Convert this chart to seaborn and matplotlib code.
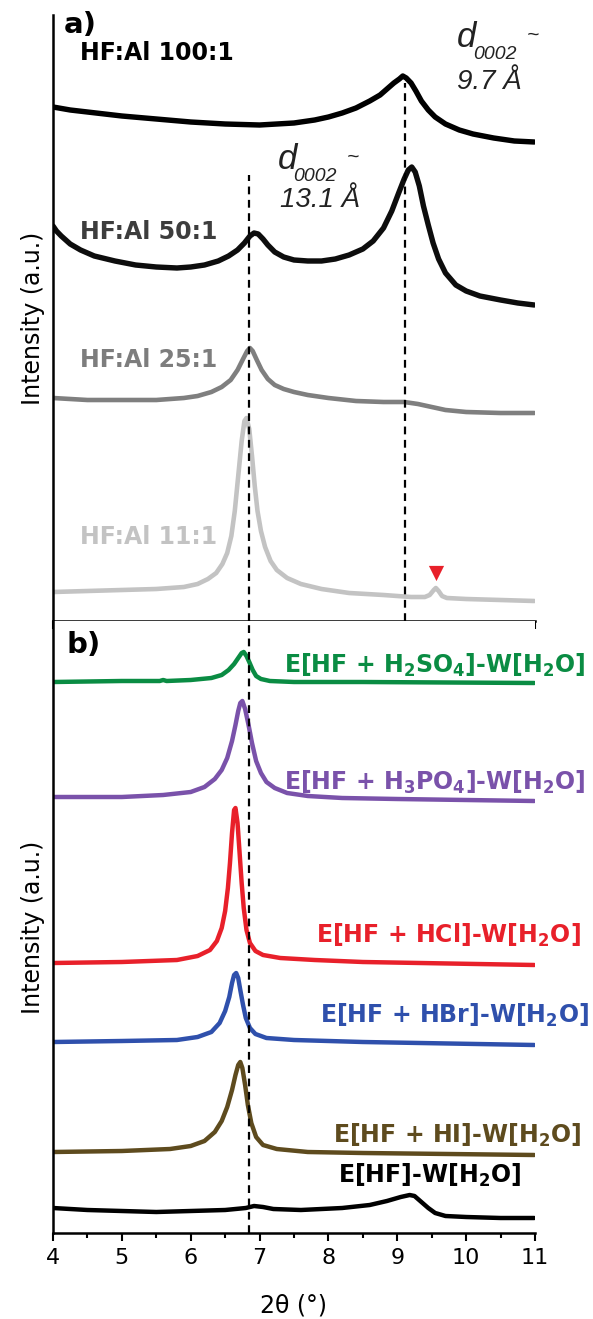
import numpy as np
import pandas as pd
import matplotlib
matplotlib.use("Agg")
import matplotlib.pyplot as plt
import seaborn as sns

# ---------------- data (2theta in degrees, stacked intensity in a.u.) ----------------
# panel a
a100_x = [4.0, 4.25, 4.5, 4.75, 5.0, 5.5, 6.0, 6.5, 7.0, 7.5, 7.8, 8.0, 8.2, 8.4, 8.6, 8.75, 8.85, 8.95,
          9.03, 9.08, 9.13, 9.2, 9.27, 9.35, 9.45, 9.55, 9.7, 9.9, 10.1, 10.4, 10.7, 10.99]
a100_y = [514, 511, 509, 507, 505, 502, 499, 497, 496, 498, 501, 504, 508, 513, 520, 526, 532, 538,
          542, 545, 543, 538, 530, 520, 511, 504, 497, 491, 487, 483, 480, 479]

a50_x = [4.0, 4.05, 4.12, 4.25, 4.4, 4.6, 4.9, 5.2, 5.5, 5.8, 6.0, 6.2, 6.4, 6.55, 6.68, 6.78, 6.86, 6.92,
         6.98, 7.05, 7.12, 7.22, 7.35, 7.5, 7.7, 7.9, 8.1, 8.3, 8.5, 8.65, 8.8, 8.92, 9.02, 9.1, 9.16, 9.21,
         9.26, 9.32, 9.38, 9.45, 9.52, 9.6, 9.7, 9.85, 10.0, 10.2, 10.5, 10.75, 10.99]
a50_y = [395, 390, 385, 377, 371, 365, 360, 356, 354, 353, 354, 356, 360, 365, 371, 378, 385, 388,
         387, 382, 376, 369, 364, 361, 360, 360, 362, 366, 372, 380, 393, 410, 428, 442, 451, 454,
         449, 435, 415, 396, 378, 362, 348, 336, 330, 325, 321, 318, 316]

a25_x = [4.0, 4.5, 5.0, 5.5, 5.9, 6.1, 6.3, 6.45, 6.58, 6.68, 6.76, 6.82, 6.86, 6.9, 6.96, 7.03, 7.12, 7.22,
         7.35, 7.5, 7.7, 8.0, 8.4, 8.8, 9.1, 9.3, 9.5, 9.7, 10.0, 10.5, 10.99]
a25_y = [223, 221, 221, 221, 223, 225, 229, 234, 241, 251, 262, 270, 273, 270, 261, 251, 242, 236,
         232, 229, 226, 223, 220, 219, 219, 217, 214, 211, 209, 208, 208]

a11_x = [4.0, 4.5, 5.0, 5.5, 5.9, 6.1, 6.25, 6.37, 6.46, 6.53, 6.59, 6.64, 6.69, 6.74, 6.78, 6.81, 6.85,
         6.89, 6.93, 6.97, 7.02, 7.08, 7.16, 7.25, 7.4, 7.6, 7.9, 8.3, 8.8, 9.2, 9.4, 9.47, 9.53, 9.56,
         9.6, 9.65, 9.72, 10.0, 10.5, 10.99]
a11_y = [29, 30, 31, 32, 34, 37, 42, 48, 57, 68, 85, 110, 145, 180, 200, 203, 192,
         165, 135, 110, 90, 74, 60, 51, 43, 37, 32, 28, 26, 24, 24, 26, 31, 33,
         30, 25, 23, 22, 21, 20]

a_labels = ["HF:Al 100:1", "HF:Al 50:1", "HF:Al 25:1", "HF:Al 11:1"]

# panel b
b_so4_x = [4.0, 5.0, 5.55, 5.6, 5.65, 6.0, 6.3, 6.45, 6.55, 6.63, 6.69, 6.74, 6.77, 6.81, 6.85, 6.9, 6.95,
           7.02, 7.15, 7.5, 8.5, 10.99]
b_so4_y = [551, 552, 552, 553, 552, 553, 555, 558, 563, 569, 575, 580, 581, 577, 571, 563, 557,
           554, 552, 551, 551, 550]

b_po4_x = [4.0, 5.0, 5.6, 6.0, 6.2, 6.35, 6.45, 6.53, 6.6, 6.65, 6.69, 6.72, 6.75, 6.79, 6.84, 6.89, 6.95,
           7.02, 7.1, 7.22, 7.4, 7.7, 8.2, 9.0, 10.99]
b_po4_y = [436, 436, 438, 441, 446, 454, 463, 475, 492, 508, 522, 530, 532, 524, 508, 490, 472,
           460, 451, 445, 440, 437, 435, 434, 432]

b_hcl_x = [4.0, 5.0, 5.8, 6.1, 6.28, 6.38, 6.45, 6.5, 6.54, 6.57, 6.6, 6.63, 6.65, 6.68, 6.71, 6.74, 6.77,
           6.81, 6.86, 6.94, 7.05, 7.3, 7.8, 8.5, 10.99]
b_hcl_y = [270, 271, 273, 277, 283, 292, 305, 322, 345, 370, 400, 423, 425, 410, 380, 350, 325,
           303, 290, 282, 278, 275, 273, 271, 268]

b_hbr_x = [4.0, 5.0, 5.8, 6.1, 6.3, 6.42, 6.5, 6.56, 6.6, 6.63, 6.66, 6.69, 6.72, 6.76, 6.8, 6.86, 6.94,
           7.1, 7.5, 8.5, 10.99]
b_hbr_y = [191, 192, 193, 196, 201, 210, 222, 236, 250, 258, 260, 255, 243, 228, 215, 205, 199,
           195, 193, 191, 188]

b_hi_x = [4.0, 5.0, 5.7, 6.0, 6.2, 6.35, 6.45, 6.53, 6.6, 6.65, 6.69, 6.72, 6.75, 6.79, 6.83, 6.88, 6.95,
          7.05, 7.25, 7.7, 8.5, 10.99]
b_hi_y = [81, 82, 84, 87, 92, 101, 112, 126, 143, 158, 168, 171, 165, 148, 128, 110, 96,
          88, 84, 81, 80, 78]

b_hf_x = [4.0, 4.5, 5.0, 5.5, 6.0, 6.5, 6.8, 6.92, 7.05, 7.2, 7.6, 8.2, 8.6, 8.85, 9.05, 9.18, 9.25, 9.35,
          9.45, 9.55, 9.7, 10.0, 10.5, 10.99]
b_hf_y = [25, 23, 22, 21, 22, 23, 25, 27, 26, 24, 23, 25, 28, 32, 36, 38, 37, 31,
          25, 20, 17, 16, 15, 15]

b_labels = [r"E[HF + H$_2$SO$_4$]-W[H$_2$O]", r"E[HF + H$_3$PO$_4$]-W[H$_2$O]",
            r"E[HF + HCl]-W[H$_2$O]", r"E[HF + HBr]-W[H$_2$O]",
            r"E[HF + HI]-W[H$_2$O]", r"E[HF]-W[H$_2$O]"]

ref_lines = [6.84, 9.11]
marker_x, marker_y = [9.56], [48]

# ---------------- styling ----------------
sns.set_style("white")
plt.rcParams["font.family"] = ["DejaVu Sans"]
plt.rcParams["mathtext.fontset"] = "dejavusans"
plt.rcParams["mathtext.default"] = "bf"
plt.rcParams["text.color"] = "black"
plt.rcParams["axes.labelcolor"] = "black"
plt.rcParams["xtick.color"] = "black"

fig = plt.figure(figsize=(5.93, 13.19), dpi=100)
W, H = 593, 1319
L, R = 53, 535
axa = fig.add_axes([L / W, 1 - 621 / H, (R - L) / W, (621 - 15) / H])
axb = fig.add_axes([L / W, 1 - 1233 / H, (R - L) / W, (1233 - 621) / H])


def curve(ax, xs, ys, color, lw):
    df = pd.DataFrame({"x": xs, "y": ys})
    sns.lineplot(data=df, x="x", y="y", ax=ax, color=color, lw=lw, sort=False,
                 solid_joinstyle="round", solid_capstyle="round")


a_colors = ["#000000", "#0d0d0d", "#7f7f7f", "#c3c3c3"]
a_text_colors = ["#000000", "#3d3d3d", "#7d7d7d", "#c3c3c3"]
curve(axa, a100_x, a100_y, a_colors[0], 3.9)
curve(axa, a50_x, a50_y, a_colors[1], 3.9)
curve(axa, a25_x, a25_y, a_colors[2], 3.3)
curve(axa, a11_x, a11_y, a_colors[3], 3.3)

b_colors = ["#0a8c43", "#7a52aa", "#e8202a", "#2f50ac", "#5e4b1e", "#000000"]
curve(axb, b_so4_x, b_so4_y, b_colors[0], 3.2)
curve(axb, b_po4_x, b_po4_y, b_colors[1], 3.2)
curve(axb, b_hcl_x, b_hcl_y, b_colors[2], 3.2)
curve(axb, b_hbr_x, b_hbr_y, b_colors[3], 3.2)
curve(axb, b_hi_x, b_hi_y, b_colors[4], 3.2)
curve(axb, b_hf_x, b_hf_y, b_colors[5], 3.2)

# dashed reference lines
dash = dict(color="black", lw=1.6, dashes=(3.5, 2.5))
axa.plot([ref_lines[0], ref_lines[0]], [0, 446], **dash)
axa.plot([ref_lines[1], ref_lines[1]], [0, 538], **dash)
axb.axvline(ref_lines[0], **dash)

axa.scatter(marker_x, marker_y, marker="v", s=120, color="#e8202a", zorder=5, linewidths=0)

for ax, top in ((axa, 606), (axb, 612)):
    ax.set_xlim(4, 11)
    ax.set_ylim(0, top)
    ax.set_yticks([])
    ax.set_xticks(range(4, 12))
    ax.set_xticks(np.arange(4.5, 11, 1.0), minor=True)
    for s in ("top", "right"):
        ax.spines[s].set_visible(False)
    for s in ("left", "bottom"):
        ax.spines[s].set_linewidth(1.8)
        ax.spines[s].set_color("black")
    ax.tick_params(axis="x", which="major", direction="out", length=5.8, width=1.5,
                   labelsize=16, pad=5, bottom=True, colors="black")
    ax.tick_params(axis="x", which="minor", direction="out", length=3.6, width=1.5, bottom=True,
                   colors="black")
    ax.set_ylabel("Intensity (a.u.)", fontsize=17, labelpad=6, color="black")
    ax.set_xlabel("")

axa.tick_params(axis="x", labelbottom=False)
axb.set_xlabel("2θ (°)", fontsize=17, labelpad=18, color="black")

# panel a texts
axa.text(4.15, 596, "a)", fontsize=21, fontweight="bold", va="center", ha="left", color="black")
a_label_y = [568, 389, 261, 84]
for lab, yy, c in zip(a_labels, a_label_y, a_text_colors):
    axa.text(4.39, yy, lab, fontsize=17, fontweight="bold", color=c, va="center", ha="left")

it = dict(family="Liberation Sans", style="italic", color="#222222")
axa.text(9.87, 583, "d", fontsize=25, va="center", ha="left", **it)
axa.text(10.1, 566, "0002", fontsize=14, va="center", ha="left", **it)
axa.text(10.88, 586, "~", fontsize=15, va="center", ha="left", **it)
axa.text(9.87, 539, "9.7 Å", fontsize=20, va="center", ha="left", **it)

axa.text(7.27, 461, "d", fontsize=25, va="center", ha="left", **it)
axa.text(7.49, 444, "0002", fontsize=14, va="center", ha="left", **it)
axa.text(8.27, 464, "~", fontsize=15, va="center", ha="left", **it)
axa.text(7.3, 421, "13.1 Å", fontsize=20, va="center", ha="left", **it)

# panel b texts
axb.text(4.19, 588, "b)", fontsize=21, fontweight="bold", va="center", ha="left", color="black")
b_label_x = [11.73, 11.73, 11.66, 11.78, 11.67, 10.8]
b_label_y = [568, 451, 298, 218, 98, 58]
for lab, xx, yy, c in zip(b_labels, b_label_x, b_label_y, b_colors):
    axb.text(xx, yy, lab, fontsize=17, fontweight="bold", color=c, va="center", ha="right")

fig.savefig("out.png", dpi=100)
